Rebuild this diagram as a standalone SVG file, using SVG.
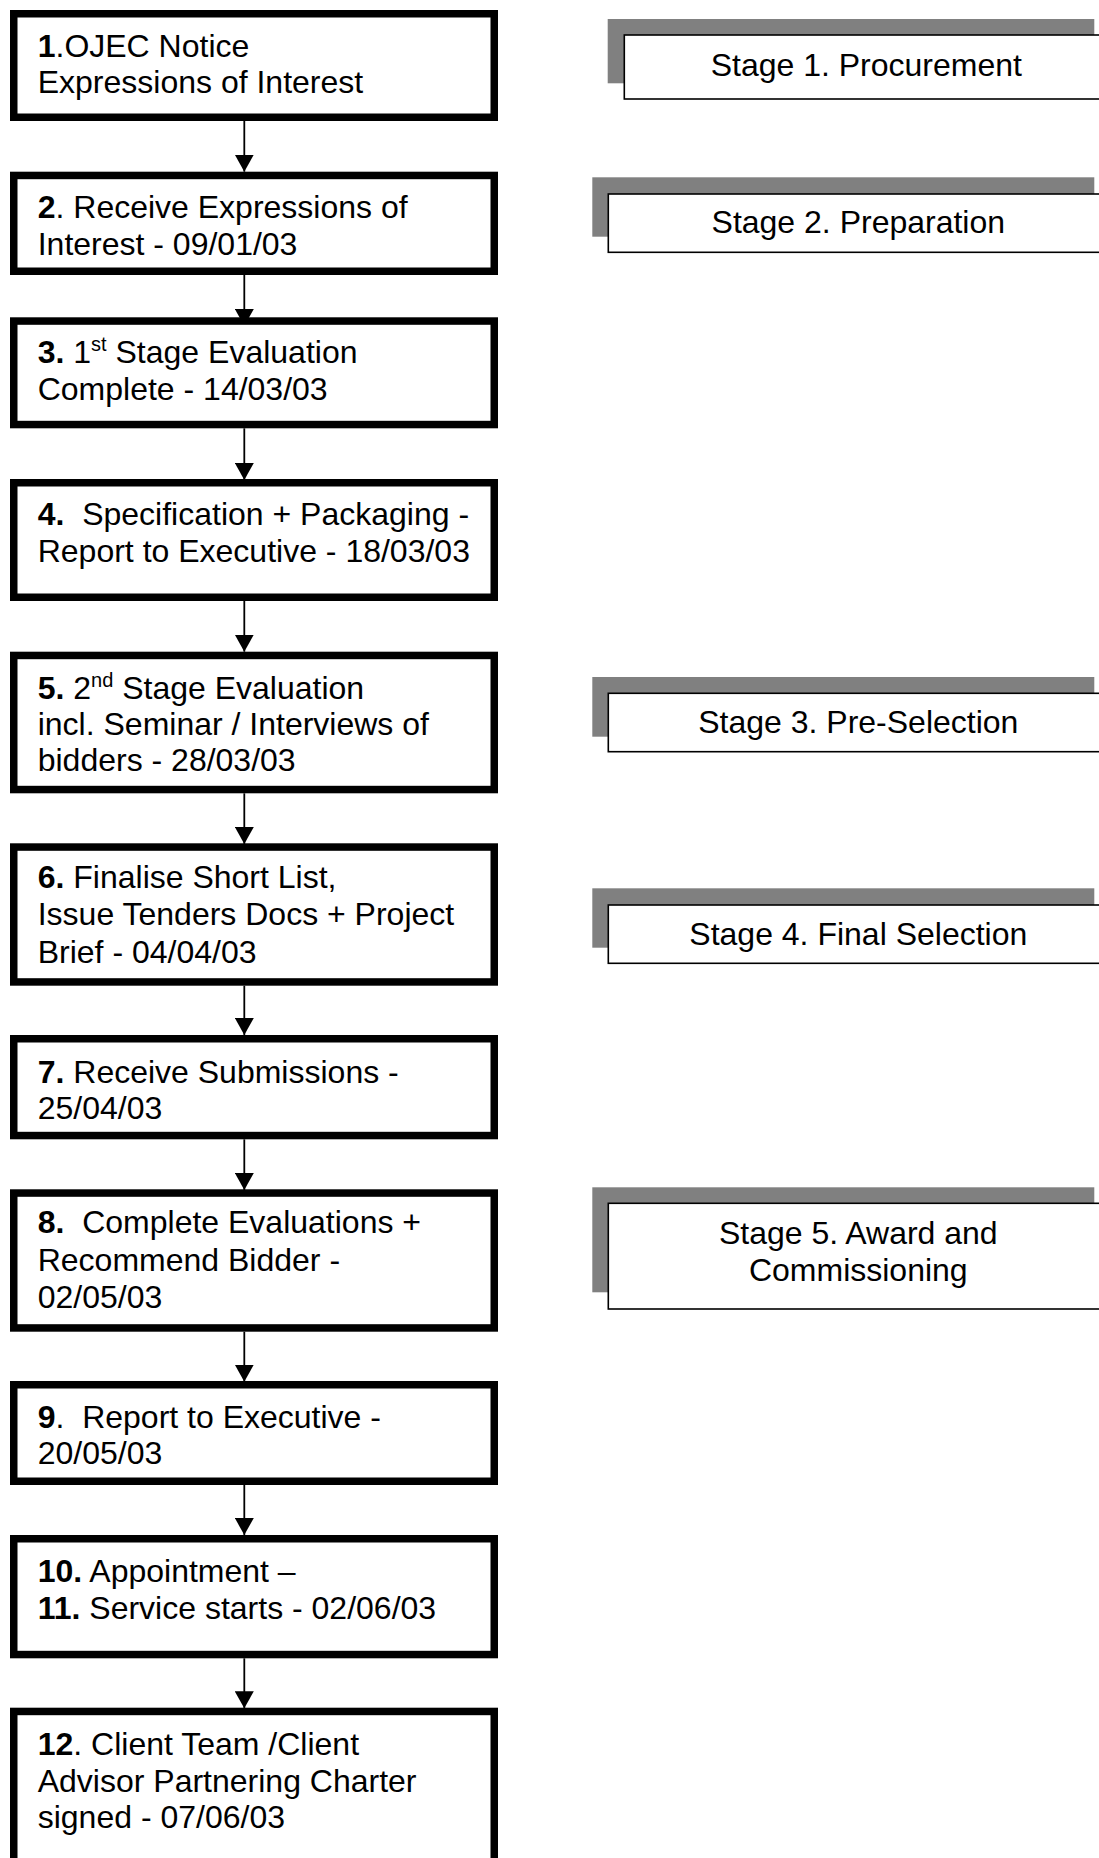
<svg xmlns="http://www.w3.org/2000/svg" width="1099" height="1858" viewBox="0 0 1099 1858">
<defs>
<style>
.box{fill:#fff;stroke:#000;stroke-width:7.5}
.shadow{fill:#808080;stroke:none}
.stage{fill:#fff;stroke:#000;stroke-width:1.6}
.t{font-family:"Liberation Sans",Arial,sans-serif;font-size:32px;fill:#000}
.c{text-anchor:middle}
.b{font-weight:bold}
.sup{font-size:20px}
.conn{stroke:#000;stroke-width:1.8;fill:none}
</style>
<marker id="ah" markerUnits="userSpaceOnUse" viewBox="0 0 17 19" refX="17" refY="9.5" markerWidth="17" markerHeight="19" orient="auto">
<path d="M0,0 L17,9.5 L0,19 Z" fill="#000"/>
</marker>
</defs>
<rect width="1099" height="1858" fill="#fff"/>

<g id="connectors">
<line class="conn" x1="244.3" y1="121" x2="244.3" y2="171.7" marker-end="url(#ah)"/>
<line class="conn" x1="244.3" y1="275" x2="244.3" y2="326" marker-end="url(#ah)"/>
<line class="conn" x1="244.3" y1="428.3" x2="244.3" y2="480" marker-end="url(#ah)"/>
<line class="conn" x1="244.3" y1="601" x2="244.3" y2="651.7" marker-end="url(#ah)"/>
<line class="conn" x1="244.3" y1="793.3" x2="244.3" y2="844" marker-end="url(#ah)"/>
<line class="conn" x1="244.3" y1="985.7" x2="244.3" y2="1035" marker-end="url(#ah)"/>
<line class="conn" x1="244.3" y1="1139.3" x2="244.3" y2="1190" marker-end="url(#ah)"/>
<line class="conn" x1="244.3" y1="1331.7" x2="244.3" y2="1381.7" marker-end="url(#ah)"/>
<line class="conn" x1="244.3" y1="1485" x2="244.3" y2="1535" marker-end="url(#ah)"/>
<line class="conn" x1="244.3" y1="1658.3" x2="244.3" y2="1708.3" marker-end="url(#ah)"/>
</g>

<g id="node1">
<rect class="box" x="13.75" y="13.75" width="480.5" height="103.5"/>
<text class="t" x="37.7" y="56.7"><tspan class="b">1</tspan>.OJEC Notice</text>
<text class="t" x="37.7" y="93.3">Expressions of Interest</text>
</g>
<g id="node2">
<rect class="box" x="13.75" y="175.45" width="480.5" height="95.8"/>
<text class="t" x="37.7" y="218.3"><tspan class="b">2</tspan>. Receive Expressions of</text>
<text class="t" x="37.7" y="255">Interest - 09/01/03</text>
</g>
<g id="node3">
<rect class="box" x="13.75" y="321.05" width="480.5" height="103.5"/>
<text class="t" x="37.7" y="362.7"><tspan class="b">3.</tspan> 1<tspan class="sup" dy="-12">st</tspan><tspan dy="12"> Stage Evaluation</tspan></text>
<text class="t" x="37.7" y="400">Complete - 14/03/03</text>
</g>
<g id="node4">
<rect class="box" x="13.75" y="482.75" width="480.5" height="114.5"/>
<text class="t" x="37.7" y="525"><tspan class="b">4.</tspan>&#160; Specification + Packaging -</text>
<text class="t" x="37.7" y="561.7">Report to Executive - 18/03/03</text>
</g>
<g id="node5">
<rect class="box" x="13.75" y="655.45" width="480.5" height="134.1"/>
<text class="t" x="37.7" y="699.3"><tspan class="b">5.</tspan> 2<tspan class="sup" dy="-12">nd</tspan><tspan dy="12"> Stage Evaluation</tspan></text>
<text class="t" x="37.7" y="735">incl. Seminar / Interviews of</text>
<text class="t" x="37.7" y="770.7">bidders - 28/03/03</text>
</g>
<g id="node6">
<rect class="box" x="13.75" y="847.05" width="480.5" height="134.9"/>
<text class="t" x="37.7" y="888.3"><tspan class="b">6.</tspan> Finalise Short List,</text>
<text class="t" x="37.7" y="925">Issue Tenders Docs + Project</text>
<text class="t" x="37.7" y="962.7">Brief - 04/04/03</text>
</g>
<g id="node7">
<rect class="box" x="13.75" y="1038.75" width="480.5" height="96.8"/>
<text class="t" x="37.7" y="1082.7"><tspan class="b">7.</tspan> Receive Submissions -</text>
<text class="t" x="37.7" y="1119.3">25/04/03</text>
</g>
<g id="node8">
<rect class="box" x="13.75" y="1193.05" width="480.5" height="134.9"/>
<text class="t" x="37.7" y="1233.3"><tspan class="b">8.</tspan>&#160; Complete Evaluations +</text>
<text class="t" x="37.7" y="1270.8">Recommend Bidder -</text>
<text class="t" x="37.7" y="1308.3">02/05/03</text>
</g>
<g id="node9">
<rect class="box" x="13.75" y="1384.75" width="480.5" height="96.5"/>
<text class="t" x="37.7" y="1428.3"><tspan class="b">9</tspan>.&#160; Report to Executive -</text>
<text class="t" x="37.7" y="1464">20/05/03</text>
</g>
<g id="node10">
<rect class="box" x="13.75" y="1538.75" width="480.5" height="115.8"/>
<text class="t" x="37.7" y="1581.7"><tspan class="b">10.</tspan> Appointment –</text>
<text class="t" x="37.7" y="1619.3"><tspan class="b">11.</tspan> Service starts - 02/06/03</text>
</g>
<g id="node12">
<rect class="box" x="13.75" y="1711.45" width="480.5" height="200"/>
<text class="t" x="37.7" y="1755"><tspan class="b">12</tspan>. Client Team /Client</text>
<text class="t" x="37.7" y="1791.7">Advisor Partnering Charter</text>
<text class="t" x="37.7" y="1828.3">signed - 07/06/03</text>
</g>

<g id="stage1">
<rect class="shadow" x="607.7" y="19" width="486.6" height="64.3"/>
<rect class="stage" x="624.3" y="35" width="500" height="64"/>
<text class="t c" x="866.3" y="76">Stage 1. Procurement</text>
</g>
<g id="stage2">
<rect class="shadow" x="592.3" y="177.3" width="502" height="59.4"/>
<rect class="stage" x="608.3" y="194" width="520" height="58.3"/>
<text class="t c" x="858.3" y="233.3">Stage 2. Preparation</text>
</g>
<g id="stage3">
<rect class="shadow" x="592.3" y="677" width="502" height="59.7"/>
<rect class="stage" x="608.3" y="693.3" width="520" height="58.4"/>
<text class="t c" x="858.3" y="733.3">Stage 3. Pre-Selection</text>
</g>
<g id="stage4">
<rect class="shadow" x="592.3" y="888.3" width="502" height="59.4"/>
<rect class="stage" x="608.3" y="905" width="520" height="58.3"/>
<text class="t c" x="858.3" y="945">Stage 4. Final Selection</text>
</g>
<g id="stage5">
<rect class="shadow" x="592.3" y="1187.3" width="502" height="105"/>
<rect class="stage" x="608.3" y="1203.3" width="520" height="105.7"/>
<text class="t c" x="858.3" y="1244">Stage 5. Award and</text>
<text class="t c" x="858.3" y="1280.5">Commissioning</text>
</g>
</svg>
